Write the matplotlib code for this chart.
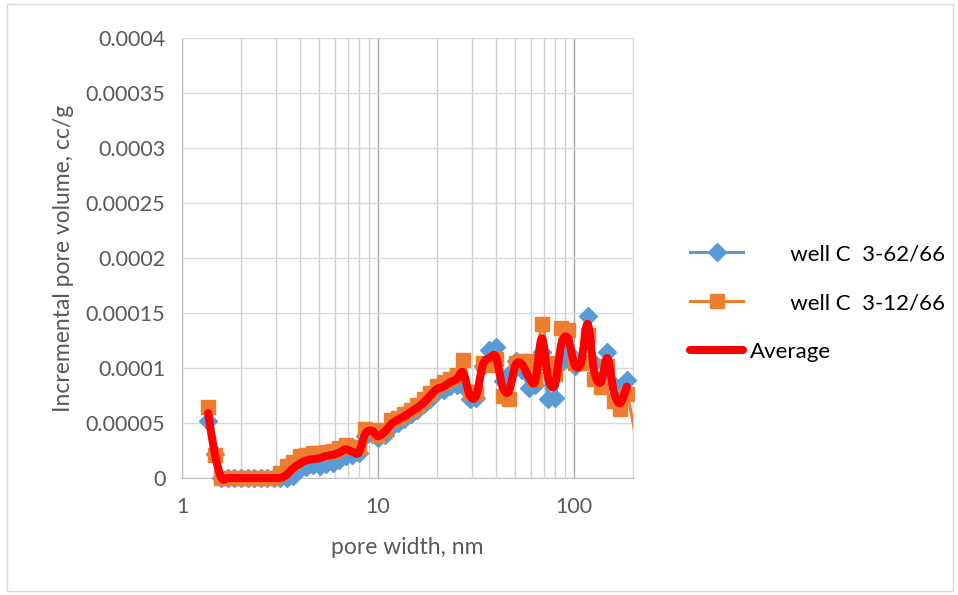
# Incremental pore volume vs pore width for two wells and their average
import numpy as np
import matplotlib
matplotlib.use("Agg")
import matplotlib.pyplot as plt
from matplotlib.path import Path
from matplotlib.patches import PathPatch, Rectangle
from matplotlib.lines import Line2D
from matplotlib.ticker import NullFormatter, LogLocator

plt.rcParams["font.family"] = ["Lato", "DejaVu Sans"]

# Pore widths (nm)
pore_width = [1.36, 1.47, 1.59, 1.71, 1.85, 2.0, 2.16, 2.33, 2.52, 2.72,
              2.94, 3.17, 3.42, 3.70, 3.99, 4.31, 4.65, 5.03, 5.43, 5.86,
              6.33, 6.84, 7.38, 7.97, 8.61, 9.30, 10.0, 10.8, 11.7, 12.6,
              13.6, 14.7, 15.9, 17.2, 18.5, 20.0, 21.6, 23.3, 25.2, 27.2,
              29.4, 31.7, 34.3, 37.0, 40.0, 43.2, 46.6, 50.4, 54.4, 58.7,
              63.4, 68.5, 74.0, 79.9, 86.3, 93.2, 100.7, 108.7, 117.4, 126.8,
              137, 148, 160, 172, 186, 215]

# Incremental pore volume in units of 1e-5 cc/g
well_c_62 = [5.2, 2.2, 0, 0, 0, 0, 0, 0, 0, 0,
             0, 0, 0, 0.2, 0.8, 1.0, 1.2, 1.1, 1.3, 1.4,
             1.6, 2.0, 2.1, 2.3, 3.8, 4.0, 3.6, 3.9, 4.6, 5.0,
             5.4, 5.8, 6.2, 6.7, 7.2, 7.8, 8.0, 8.4, 8.5, 8.4,
             7.2, 7.3, 10.2, 11.6, 11.9, 8.8, 9.5, 10.6, 9.8, 8.2,
             8.5, 11.5, 7.2, 7.3, 10.5, 11.5, 10.2, 10.8, 14.7, 10.5,
             9.0, 11.5, 8.5, 7.2, 8.9]
well_c_12 = [6.5, 2.1, 0, 0, 0, 0, 0, 0, 0, 0,
             0, 0.5, 1.1, 1.5, 2.0, 2.1, 2.3, 2.3, 2.4, 2.5,
             2.7, 3.0, 2.8, 2.8, 4.5, 4.4, 3.9, 4.4, 5.3, 5.5,
             5.8, 6.2, 6.6, 7.2, 7.7, 8.4, 8.7, 9.0, 9.4, 10.7,
             7.8, 7.7, 10.5, 10.3, 10.8, 7.5, 7.2, 10.5, 10.6, 10.6,
             9.0, 14.0, 10.5, 9.5, 13.6, 13.5, 10.5, 10.5, 13.0, 9.0,
             8.3, 10.2, 7.0, 6.3, 7.6, 2.0]
average = [5.9, 2.2, 0, 0, 0, 0, 0, 0, 0, 0,
           0, 0, 0.3, 0.9, 1.3, 1.6, 1.7, 1.8, 2.0, 2.1,
           2.3, 2.6, 2.4, 2.3, 4.0, 4.3, 3.8, 4.2, 4.9, 5.3,
           5.6, 6.0, 6.4, 6.9, 7.5, 8.1, 8.3, 8.7, 9.0, 9.6,
           7.5, 7.5, 10.3, 10.9, 11.0, 8.3, 7.9, 10.3, 10.3, 9.2,
           8.8, 12.7, 9.0, 8.5, 12.2, 12.7, 10.3, 10.5, 14.0, 9.7,
           8.7, 10.9, 7.8, 6.8, 8.3]
UNIT = 1e-5

y_ticks = [0, 0.00005, 0.0001, 0.00015, 0.0002, 0.00025, 0.0003, 0.00035, 0.0004]
y_tick_labels = ["0", "0.00005", "0.0001", "0.00015", "0.0002",
                 "0.00025", "0.0003", "0.00035", "0.0004"]
x_ticks = [1, 10, 100]
x_tick_labels = ["1", "10", "100"]

BLUE = "#5B9BD5"
ORANGE = "#ED7D31"
RED = "#FF0000"
TEXT = "#595959"


def smooth_path(xs, ys):
    # Excel-like smoothed line: Catmull-Rom turned into cubic Bezier segments in log-x space
    u = np.log10(np.asarray(xs, dtype=float))
    v = np.asarray(ys, dtype=float)
    n = len(u)
    verts = [(xs[0], v[0])]
    codes = [Path.MOVETO]
    for i in range(n - 1):
        j0 = max(i - 1, 0)
        j3 = min(i + 2, n - 1)
        c1u = u[i] + (u[i + 1] - u[j0]) / 6
        c1v = v[i] + (v[i + 1] - v[j0]) / 6
        c2u = u[i + 1] - (u[j3] - u[i]) / 6
        c2v = v[i + 1] - (v[j3] - v[i]) / 6
        verts += [(10 ** c1u, c1v), (10 ** c2u, c2v), (xs[i + 1], v[i + 1])]
        codes += [Path.CURVE4] * 3
    return Path(verts, codes)


fig = plt.figure(figsize=(9.58, 5.95), dpi=100)
ax = fig.add_axes([182 / 958, 117 / 595, 451 / 958, 440 / 595])

# chart border
fig.patches.append(Rectangle((7 / 958, 4 / 595), 946 / 958, 587 / 595,
                             transform=fig.transFigure, fill=False,
                             edgecolor="#d9d9d9", lw=1))

x62 = pore_width[:len(well_c_62)]
x12 = pore_width[:len(well_c_12)]
xav = pore_width[:len(average)]
y62 = [v * UNIT for v in well_c_62]
y12 = [v * UNIT for v in well_c_12]
yav = [v * UNIT for v in average]

ax.add_patch(PathPatch(smooth_path(x62, y62), fill=False, edgecolor=BLUE,
                       lw=2.2, clip_on=False, zorder=2))
ax.plot(x62, y62, linestyle="none", marker="D", markersize=9,
        color=BLUE, clip_on=False, zorder=3)

ax.add_patch(PathPatch(smooth_path(x12, y12), fill=False, edgecolor=ORANGE,
                       lw=2.2, zorder=4))
in_range = [i for i, x in enumerate(x12) if x <= 200]
ax.plot([x12[i] for i in in_range], [y12[i] for i in in_range],
        linestyle="none", marker="s", markersize=9.5, color=ORANGE,
        clip_on=False, zorder=5)

ax.add_patch(PathPatch(smooth_path(xav, yav), fill=False, edgecolor=RED,
                       lw=5.8, capstyle="round", joinstyle="round",
                       clip_on=False, zorder=6))

ax.set_xscale("log")
ax.set_xlim(1, 200)
ax.set_ylim(0, 0.0004)
ax.xaxis.set_minor_locator(LogLocator(base=10, subs=range(2, 10)))
ax.xaxis.set_minor_formatter(NullFormatter())
ax.set_xticks(x_ticks, x_tick_labels)
ax.set_yticks(y_ticks, y_tick_labels)
ax.tick_params(which="both", length=0, labelsize=15.5, labelcolor=TEXT)
ax.tick_params(axis="y", pad=12)
ax.tick_params(axis="x", pad=14)

ax.set_axisbelow(True)
ax.grid(which="major", axis="x", color="#a6a6a6", lw=1)
ax.grid(which="minor", axis="x", color="#d0d0d0", lw=1)
ax.grid(which="major", axis="y", color="#d9d9d9", lw=1)
for side in ["top", "right"]:
    ax.spines[side].set_color("#d9d9d9")
for side in ["left", "bottom"]:
    ax.spines[side].set_color("#bfbfbf")

ax.set_xlabel("pore width, nm", fontsize=16.5, color=TEXT, labelpad=14)
ax.set_ylabel("Incremental pore volume, cc/g", fontsize=16.5, color=TEXT, labelpad=8)

handles = [
    Line2D([], [], color=BLUE, lw=2.2, marker="D", markersize=9),
    Line2D([], [], color=ORANGE, lw=2.2, marker="s", markersize=9.5),
    Line2D([], [], color=RED, lw=5.8, solid_capstyle="round"),
]
labels = ["       well C  3-62/66", "       well C  3-12/66", "Average"]
fig.legend(handles, labels, loc="center left",
           bbox_to_anchor=(690 / 958, 1 - 303 / 595), frameon=False,
           borderpad=0, borderaxespad=0, handlelength=2.4, handletextpad=0.3,
           labelspacing=1.3, fontsize=16)

fig.savefig("out.png", dpi=100)
